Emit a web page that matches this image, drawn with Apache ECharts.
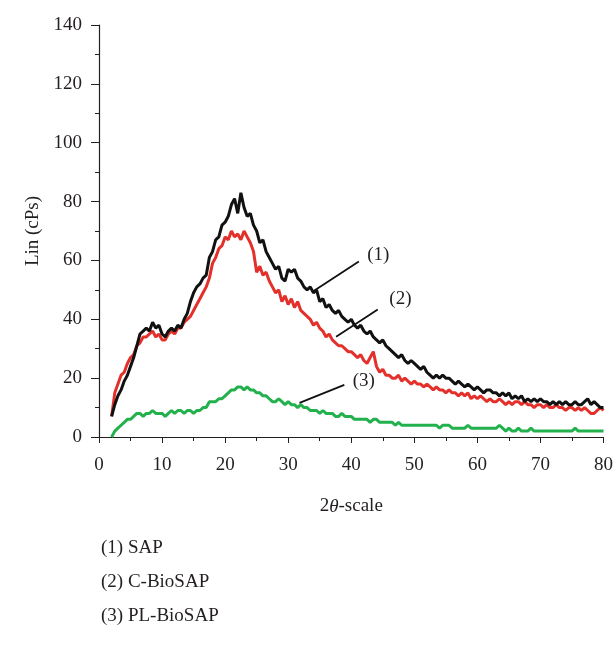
<!DOCTYPE html>
<html>
<head>
<meta charset="utf-8">
<script src="https://cdn.jsdelivr.net/npm/echarts@6/dist/echarts.min.js"></script>
<style>html,body{margin:0;padding:0;background:#fff}#c{width:616px;height:645px}</style>
</head>
<body>
<div id="c"></div>
<script>
// 2θ angles (degrees)
const angles = [2,2.5,3,3.5,4,4.5,5,5.5,6,6.5,7,7.5,8,8.5,9,9.5,10,10.5,11,11.5,12,12.5,13,13.5,14,14.5,15,15.5,16,16.5,17,17.5,18,18.5,19,19.5,20,20.5,21,21.5,22,22.5,23,23.5,24,24.5,25,25.5,26,26.5,27,27.5,28,28.5,29,29.5,30,30.5,31,31.5,32,32.5,33,33.5,34,34.5,35,35.5,36,36.5,37,37.5,38,38.5,39,39.5,40,40.5,41,41.5,42,42.5,43,43.5,44,44.5,45,45.5,46,46.5,47,47.5,48,48.5,49,49.5,50,50.5,51,51.5,52,52.5,53,53.5,54,54.5,55,55.5,56,56.5,57,57.5,58,58.5,59,59.5,60,60.5,61,61.5,62,62.5,63,63.5,64,64.5,65,65.5,66,66.5,67,67.5,68,68.5,69,69.5,70,70.5,71,71.5,72,72.5,73,73.5,74,74.5,75,75.5,76,76.5,77,77.5,78,78.5,79,79.5,80];
// (1) SAP
const sap = [7,11,14,16,19,21,24,27,31,35,36,37,36,39,37,38,35,34,36,37,36,38,37,40,42,46,49,51,52,54,55,61,63,67,68,72,73,75,79,81,76,83,78,75,76,72,70,66,67,63,61,59,57,58,54,53,57,56,57,54,53,51,50,51,49,50,46,47,44,45,43,42,43,41,40,39,40,38,37,38,36,35,36,34,33,32,33,31,30,29,28,27,28,26,25,26,25,24,23,24,22,21,20,21,20,21,20,20,19,18,19,18,17,18,17,16,17,16,15,16,16,15,15,14,15,14,15,13,14,13,14,12,13,12,13,12,13,12,12,11,12,11,12,11,12,11,11,12,11,11,12,13,11,12,11,10,10];
// (2) C-BioSAP
const cBioSap = [7,15,18,21,22,25,27,28,31,32,34,34,35,36,34,35,33,33,35,36,35,37,37,39,40,41,43,45,47,49,51,54,59,61,64,65,68,67,70,68,69,67,70,68,66,63,56,58,55,56,53,51,49,50,46,48,45,47,44,46,43,42,41,40,38,39,37,36,34,35,33,32,31,31,30,29,29,28,27,28,26,25,27,29,24,22,23,21,21,20,20,21,19,20,19,18,19,18,18,17,18,17,16,17,16,16,15,16,15,15,14,15,14,15,13,14,13,14,13,12,13,12,12,13,12,11,12,11,12,12,11,12,11,11,10,11,11,10,11,10,10,11,10,10,9,10,10,9,10,9,10,9,8,8,9,10,9];
// (3) PL-BioSAP
const plBioSap = [0,2,3,4,5,6,6,7,8,8,7,8,8,9,8,8,8,7,8,9,8,9,9,8,9,9,8,9,9,10,10,12,12,12,13,13,14,15,16,16,17,17,16,17,16,16,15,15,14,14,13,12,12,13,12,11,12,11,11,10,11,10,10,9,9,9,8,9,8,8,8,7,7,8,7,7,7,6,6,6,6,6,5,6,6,5,5,5,5,5,4,5,4,4,4,4,4,4,4,4,4,4,4,4,3,4,4,4,3,3,3,3,3,4,3,3,3,3,3,3,3,3,3,4,3,2,3,2,2,3,2,2,2,3,2,2,2,2,2,2,2,2,2,2,2,2,2,3,2,2,2,2,2,2,2,2,2];
const seriesNames = ['(1) SAP', '(2) C-BioSAP', '(3) PL-BioSAP'];
const xTicks = [0,10,20,30,40,50,60,70,80];
const yTicks = [0,20,40,60,80,100,120,140];
// annotation pointers [from, to] in data units and their tags
const pointers = [[[41.2,59.6],[34.1,49.7]], [[44.2,43.3],[37.6,34.1]], [[38.9,17.7],[31.8,11.6]]];
const tags = ['(1)','(2)','(3)'];
const tagPos = [[44.3,62.0],[47.8,47.0],[42.0,19.0]];

const FONT = '"Liberation Serif", "DejaVu Serif", serif';
const FS = 19;
const TXT = '#231f20';
const colors = ['#111111', '#e3302b', '#22b14c'];
const data = [sap, cBioSap, plBioSap];

const chart = echarts.init(document.getElementById('c'), null, {renderer: 'canvas'});
const series = data.map((vals, i) => ({
  name: seriesNames[i],
  type: 'line',
  data: angles.map((a, j) => [a, vals[j]]),
  showSymbol: false,
  symbol: 'none',
  lineStyle: {color: colors[i], width: 3},
  itemStyle: {color: colors[i]},
  z: 3 - i,
  markLine: {
    silent: true, symbol: 'none',
    lineStyle: {color: '#111', width: 1.8, type: 'solid'},
    label: {show: false},
    data: [[{coord: pointers[i][0]}, {coord: pointers[i][1]}]]
  },
  markPoint: {
    silent: true, symbol: 'circle', symbolSize: 0,
    label: {show: true, formatter: tags[i], fontFamily: FONT, fontSize: FS, color: TXT},
    data: [{coord: tagPos[i]}]
  }
}));

chart.setOption({
  animation: false,
  backgroundColor: '#fff',
  grid: {left: 99, right: 11, top: 25, bottom: 208, containLabel: false},
  xAxis: {
    type: 'value', min: 0, max: 80, interval: 10,
    name: '2{i|θ}-scale', nameLocation: 'middle', nameGap: 60,
    nameTextStyle: {fontFamily: FONT, fontSize: FS, color: TXT, rich: {i: {fontStyle: 'italic', fontFamily: FONT, fontSize: FS, color: TXT}}},
    axisLine: {lineStyle: {color: '#231f20', width: 1.2}},
    axisTick: {show: true, length: 6, lineStyle: {color: '#231f20'}},
    minorTick: {show: true, splitNumber: 2, length: 4, lineStyle: {color: '#231f20'}},
    splitLine: {show: false},
    axisLabel: {fontFamily: FONT, fontSize: FS, color: TXT, margin: 19,
      formatter: v => xTicks.includes(v) ? String(v) : ''}
  },
  yAxis: {
    type: 'value', min: 0, max: 140, interval: 20,
    name: 'Lin (cPs)', nameLocation: 'middle', nameGap: 52,
    nameTextStyle: {fontFamily: FONT, fontSize: FS, color: TXT},
    axisLine: {show: true, lineStyle: {color: '#231f20', width: 1.2}},
    axisTick: {show: true, length: 8, lineStyle: {color: '#231f20'}},
    minorTick: {show: true, splitNumber: 2, length: 4, lineStyle: {color: '#231f20'}},
    splitLine: {show: false},
    axisLabel: {fontFamily: FONT, fontSize: FS, color: TXT, margin: 17,
      formatter: v => yTicks.includes(v) ? String(v) : ''}
  },
  graphic: seriesNames.map((t, i) => ({
    type: 'text', x: 101, y: 548 + i * 34,
    style: {text: t, font: FS + 'px ' + FONT, fill: TXT, verticalAlign: 'middle'}
  })),
  series: series
});
</script>
</body>
</html>
